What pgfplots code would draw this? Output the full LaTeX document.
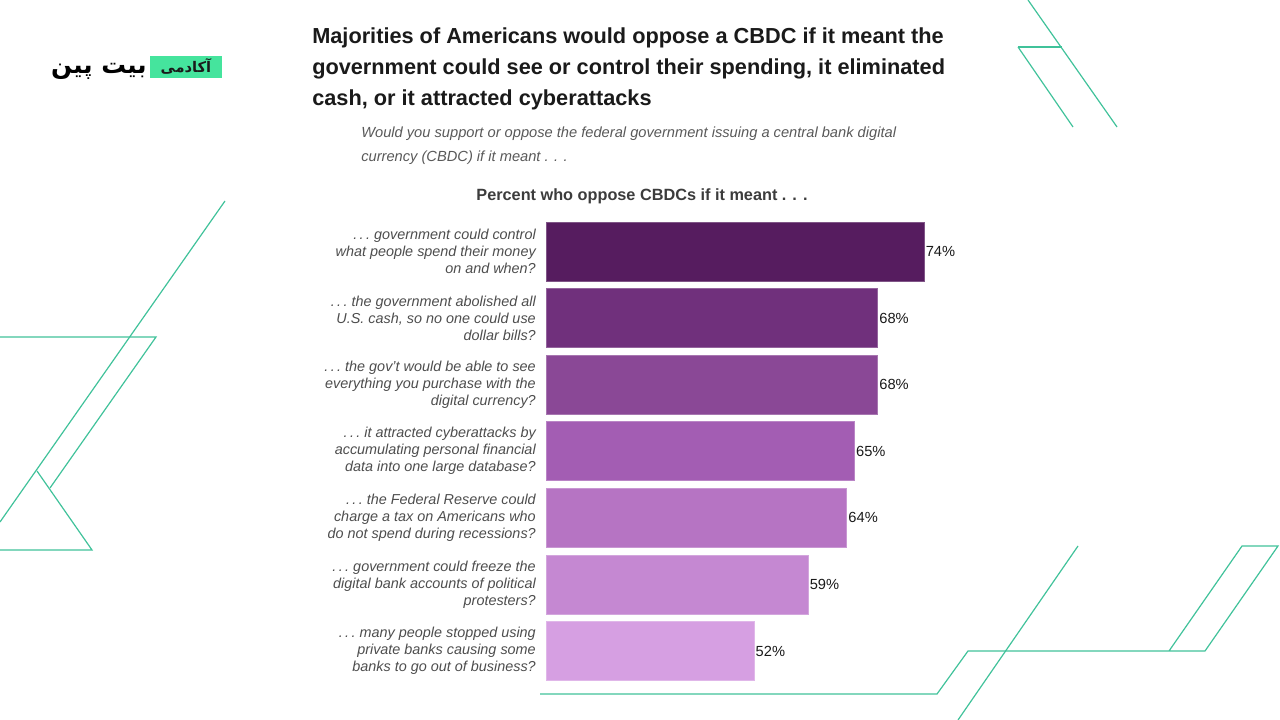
\documentclass[border=0pt]{standalone}
\usepackage{fontspec}
\setmainfont{Liberation Sans}
\newfontfamily\fa[Script=Arabic]{DejaVu Sans}
\TeXXeTstate=1
\usepackage{pgfplots}
\pgfplotsset{compat=1.18}
\definecolor{c1}{HTML}{561C5F}
\definecolor{c2}{HTML}{70307C}
\definecolor{c3}{HTML}{8A4896}
\definecolor{c4}{HTML}{A35DB3}
\definecolor{c5}{HTML}{B674C3}
\definecolor{c6}{HTML}{C588D2}
\definecolor{c7}{HTML}{D69FE2}
\definecolor{lg}{HTML}{40C29A}
\definecolor{logogreen}{HTML}{45E49D}
\definecolor{titlecol}{HTML}{1A1A1A}
\definecolor{subcol}{HTML}{595959}
\definecolor{labcol}{HTML}{4D4D4D}
\begin{document}
\begin{tikzpicture}
\path[use as bounding box] (0,0) rectangle (960pt,540pt);
\begin{scope}[x=0.75pt,y=-0.75pt,yshift=540pt]
  % decorative lines
  \begin{scope}[draw=lg, line width=0.9pt]
    \draw (225,201)--(0,522);
    \draw (0,337)--(156,337)--(50,488);
    \draw (37,471)--(92,550)--(0,550);
    \draw (1028,0)--(1117,127);
    \draw (1018,47)--(1062,47);
    \draw (1018,47)--(1073,127);
    \draw (540,694)--(937,694)--(968,651)--(1205,651)--(1278,546)--(1242,546)--(1169,651);
    \draw (1078,546)--(958,720);
  \end{scope}
  % logo
  \fill[logogreen] (150,56) rectangle (222,78);
  \node[anchor=center, text=titlecol, inner sep=0pt] at (186,66.5) {\fa\bfseries\fontsize{11}{13}\selectfont\beginR آکادمی\endR};
  \node[anchor=base east, text=black, inner sep=0pt] at (147,74) {\fa\bfseries\fontsize{18.5}{22}\selectfont\beginR بیت پین\endR};
  % title
  \begin{scope}[every node/.style={anchor=base west, inner sep=0pt, text=titlecol, font=\bfseries\fontsize{16.3}{19}\selectfont}]
    \node at (312,44) {Majorities of Americans would oppose a CBDC if it meant the};
    \node at (312,75) {government could see or control their spending, it eliminated};
    \node at (312,106) {cash, or it attracted cyberattacks};
  \end{scope}
  \begin{scope}[every node/.style={anchor=base west, inner sep=0pt, text=subcol, font=\itshape\fontsize{11}{13}\selectfont}]
    \node at (361,138) {Would you support or oppose the federal government issuing a central bank digital};
    \node at (361,162) {currency (CBDC) if it meant . . .};
  \end{scope}
  \node[anchor=base, inner sep=0pt, text=titlecol!85!white, font=\bfseries\fontsize{12.2}{14}\selectfont] at (642,201) {Percent who oppose CBDCs if it meant . . .};
\end{scope}
\begin{axis}[
  at={(568.65pt,201.56pt)}, anchor=center,
  x=5.7975pt, y=49.935pt, y dir=reverse,
  xmin=25.1, xmax=80, ymin=-0.5, ymax=6.5,
  axis line style={draw=none},
  xtick=\empty,
  ytick={0,1,2,3,4,5,6},
  major tick length=0pt,
  ytick style={draw=none},
  /pgf/number format/assume math mode=true,
  yticklabel style={align=right, inner sep=0pt, xshift=-7.5pt, text=labcol, font=\itshape\fontsize{10.8}{12.75}\selectfont},
  yticklabels={
    {.\,.\,.\ government could control\\what people spend their money\\on and when?},
    {.\,.\,.\ the government abolished all\\U.S. cash, so no one could use\\dollar bills?},
    {.\,.\,.\ the gov't would be able to see\\everything you purchase with the\\digital currency?},
    {.\,.\,.\ it attracted cyberattacks by\\accumulating personal financial\\data into one large database?},
    {.\,.\,.\ the Federal Reserve could\\charge a tax on Americans who\\do not spend during recessions?},
    {.\,.\,.\ government could freeze the\\digital bank accounts of political\\protesters?},
    {.\,.\,.\ many people stopped using\\private banks causing some\\banks to go out of business?}
  },
  every axis plot/.append style={xbar, bar shift=0pt, bar width=0.886, line width=0.6pt},
  point meta=x,
  nodes near coords={\pgfmathprintnumber{\pgfplotspointmeta}\%},
  nodes near coords style={anchor=west, inner sep=1pt, text=titlecol, font=\fontsize{11}{13}\selectfont},
]
\addplot[fill=c1, draw=c1!75!white] coordinates {(74,0)};
\addplot[fill=c2, draw=c2!75!white] coordinates {(68,1)};
\addplot[fill=c3, draw=c3!75!white] coordinates {(68,2)};
\addplot[fill=c4, draw=c4!75!white] coordinates {(65,3)};
\addplot[fill=c5, draw=c5!75!white] coordinates {(64,4)};
\addplot[fill=c6, draw=c6!75!white] coordinates {(59,5)};
\addplot[fill=c7, draw=c7!75!white] coordinates {(52,6)};
\end{axis}
\end{tikzpicture}
\end{document}
